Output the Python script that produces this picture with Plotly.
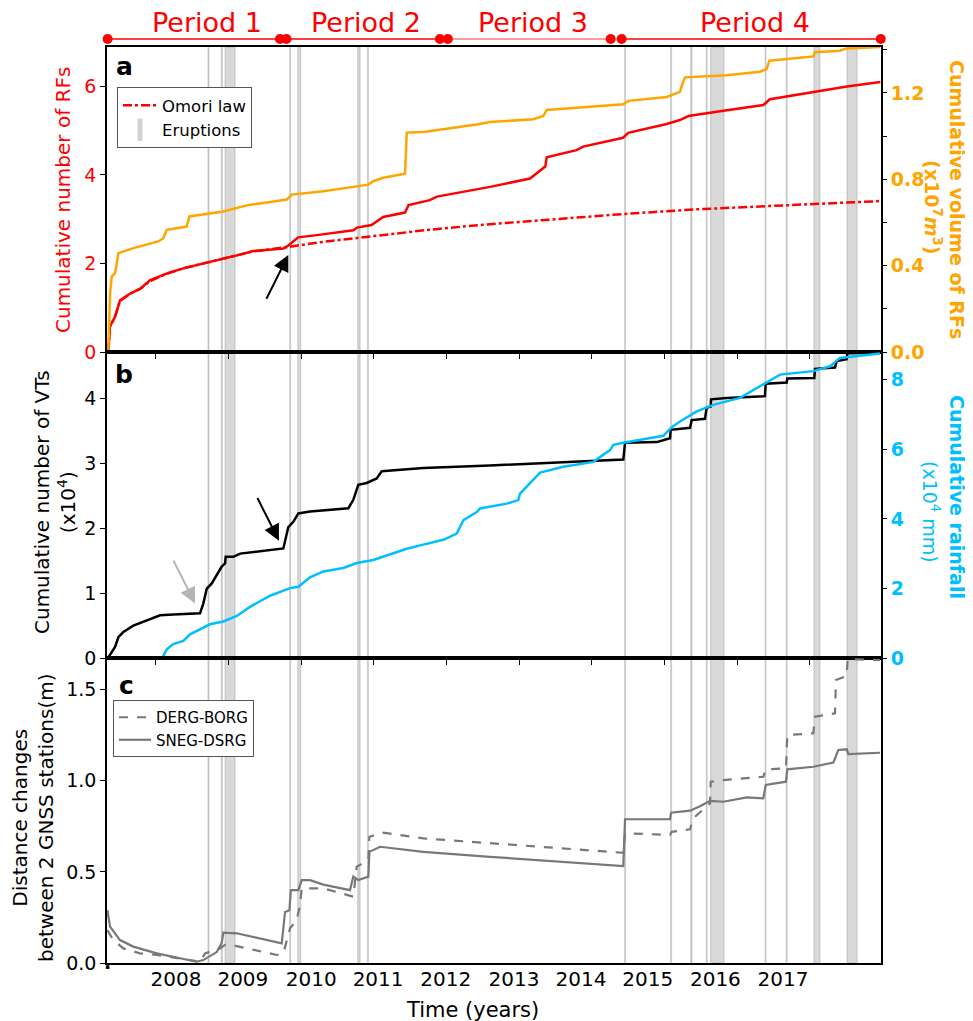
import plotly.graph_objects as go

# ---------------- data ----------------
x_range = [2007.331, 2017.978]
year_ticks = [2008, 2009, 2010, 2011, 2012, 2013, 2014, 2015, 2016, 2017]
tick_label_pos = [2008.28, 2009.20, 2010.14, 2011.06, 2011.99, 2012.93, 2013.85, 2014.77, 2015.70, 2016.63]
tick_labels = ["2008", "2009", "2010", "2011", "2012", "2013", "2014", "2015", "2016", "2017"]

# eruptions (decimal years)
eruption_start = [2008.720, 2008.905, 2008.955, 2009.845, 2009.955, 2010.780, 2010.915, 2014.452,
                  2015.085, 2015.360, 2015.575, 2015.635, 2016.385, 2016.675, 2017.055, 2017.510]
eruption_end = [2008.733, 2008.918, 2009.092, 2009.856, 2009.995, 2010.812, 2010.926, 2014.463,
                2015.096, 2015.376, 2015.586, 2015.818, 2016.396, 2016.686, 2017.138, 2017.650]

# periods
period_names = ["Period 1", "Period 2", "Period 3", "Period 4"]
period_start = [2007.34, 2009.80, 2012.02, 2014.41]
period_end = [2009.71, 2011.91, 2014.26, 2017.975]
period_label_x = [2008.70, 2010.89, 2013.19, 2016.24]
period_colors = ["#ff0000", "#ff0000", "#ff7b7b", "#ff0000"]

# panel a: cumulative number of RFs
rf_t = [2007.35, 2007.37, 2007.44, 2007.51, 2007.65, 2007.79, 2007.92, 2008.15, 2008.38, 2008.70,
        2008.93, 2009.16, 2009.34, 2009.76, 2009.83, 2009.96, 2010.22, 2010.72, 2010.77, 2010.97,
        2011.13, 2011.43, 2011.48, 2011.77, 2011.87, 2012.23, 2012.46, 2012.60, 2013.15, 2013.24,
        2013.36, 2013.38, 2013.79, 2013.88, 2014.43, 2014.50, 2015.03, 2015.21, 2015.33, 2015.81,
        2016.36, 2016.45, 2017.05, 2017.51, 2017.97]
rf_n = [0.00, 0.57, 0.79, 1.17, 1.32, 1.43, 1.62, 1.77, 1.89, 2.01,
        2.11, 2.20, 2.28, 2.34, 2.41, 2.59, 2.64, 2.75, 2.81, 2.87,
        3.05, 3.15, 3.32, 3.43, 3.51, 3.62, 3.68, 3.73, 3.92, 4.04,
        4.19, 4.40, 4.56, 4.64, 4.84, 4.95, 5.15, 5.24, 5.33, 5.45,
        5.58, 5.71, 5.87, 6.00, 6.10]

# Omori law fit
omori_t = [2007.35, 2007.37, 2007.44, 2007.51, 2007.65, 2007.79, 2007.92, 2008.15, 2008.38, 2008.70,
           2008.93, 2009.16, 2009.34, 2009.76, 2009.85, 2010.31, 2010.99, 2011.70, 2012.46, 2013.50,
           2014.46, 2015.40, 2016.41, 2017.97]
omori_n = [0.00, 0.57, 0.79, 1.15, 1.32, 1.43, 1.60, 1.77, 1.89, 2.01,
           2.11, 2.20, 2.27, 2.35, 2.38, 2.49, 2.62, 2.75, 2.87, 3.00,
           3.12, 3.22, 3.30, 3.41]

# panel a: cumulative volume of RFs (x1e7 m3)
vol_t = [2007.349, 2007.373, 2007.396, 2007.442, 2007.465, 2007.487, 2007.693, 2007.878, 2008.037, 2008.106,
         2008.153, 2008.428, 2008.464, 2008.931, 2009.253, 2009.574, 2009.803, 2009.872, 2010.307, 2010.766,
         2010.926, 2010.994, 2011.132, 2011.431, 2011.454, 2011.682, 2012.142, 2012.417, 2012.600, 2013.195,
         2013.333, 2013.380, 2014.433, 2014.502, 2015.030, 2015.121, 2015.213, 2015.237, 2015.282, 2015.856,
         2016.314, 2016.406, 2016.442, 2017.047, 2017.070, 2017.414, 2017.506, 2017.964]
vol_v = [0.000, 0.270, 0.349, 0.365, 0.410, 0.458, 0.481, 0.496, 0.512, 0.527,
         0.566, 0.581, 0.628, 0.651, 0.679, 0.695, 0.706, 0.729, 0.744, 0.767,
         0.775, 0.791, 0.807, 0.826, 1.016, 1.019, 1.039, 1.054, 1.065, 1.078,
         1.093, 1.121, 1.147, 1.163, 1.181, 1.194, 1.205, 1.233, 1.272, 1.282,
         1.298, 1.310, 1.349, 1.369, 1.388, 1.395, 1.406, 1.412]

# panel b: cumulative number of VTs (x1e4)
vt_t = [2007.349, 2007.442, 2007.487, 2007.556, 2007.693, 2007.878, 2008.061, 2008.243, 2008.611, 2008.656,
        2008.703, 2008.772, 2008.909, 2008.955, 2008.964, 2009.069, 2009.161, 2009.757, 2009.780, 2009.825,
        2009.894, 2009.963, 2010.124, 2010.651, 2010.719, 2010.788, 2010.904, 2011.041, 2011.110, 2011.682,
        2012.600, 2014.433, 2014.457, 2014.893, 2015.076, 2015.085, 2015.351, 2015.374, 2015.557, 2015.580,
        2015.635, 2015.640, 2015.856, 2016.382, 2016.392, 2016.681, 2016.689, 2017.061, 2017.070, 2017.345,
        2017.369, 2017.506, 2017.514, 2017.964]
vt_n = [0.01, 0.17, 0.32, 0.40, 0.50, 0.58, 0.66, 0.67, 0.69, 0.84,
        1.07, 1.15, 1.41, 1.46, 1.56, 1.56, 1.61, 1.69, 1.82, 2.02,
        2.10, 2.23, 2.26, 2.31, 2.44, 2.67, 2.70, 2.77, 2.88, 2.93,
        2.97, 3.06, 3.32, 3.33, 3.39, 3.52, 3.55, 3.67, 3.69, 3.86,
        3.88, 3.99, 4.01, 4.04, 4.23, 4.25, 4.31, 4.32, 4.46, 4.48,
        4.58, 4.61, 4.70, 4.71]

# panel b: cumulative rainfall (x1e4 mm)
rain_t = [2008.098, 2008.153, 2008.243, 2008.381, 2008.473, 2008.611, 2008.748, 2008.931, 2009.116, 2009.298,
          2009.574, 2009.849, 2009.963, 2010.124, 2010.307, 2010.582, 2010.766, 2010.994, 2011.224, 2011.454,
          2011.682, 2011.957, 2012.142, 2012.232, 2012.417, 2012.462, 2012.829, 2012.989, 2013.012, 2013.150,
          2013.288, 2013.608, 2014.021, 2014.250, 2014.296, 2014.433, 2014.983, 2015.099, 2015.213, 2015.443,
          2015.671, 2016.038, 2016.359, 2016.589, 2017.047, 2017.277, 2017.414, 2017.964]
rain_v = [0.03, 0.25, 0.40, 0.49, 0.68, 0.83, 0.97, 1.05, 1.21, 1.47,
          1.79, 2.01, 2.05, 2.32, 2.49, 2.59, 2.73, 2.82, 2.98, 3.14,
          3.26, 3.40, 3.58, 3.96, 4.20, 4.30, 4.44, 4.54, 4.73, 5.02,
          5.33, 5.50, 5.64, 5.98, 6.13, 6.19, 6.39, 6.64, 6.80, 7.09,
          7.28, 7.48, 7.86, 8.15, 8.25, 8.39, 8.63, 8.76]

# panel c: GNSS baselines (m)
sneg_t = [2007.336, 2007.373, 2007.510, 2007.693, 2008.015, 2008.243, 2008.565, 2008.656, 2008.840, 2008.909,
          2008.931, 2009.116, 2009.735, 2009.780, 2009.840, 2009.860, 2009.963, 2010.010, 2010.124, 2010.307,
          2010.674, 2010.719, 2010.788, 2010.926, 2010.940, 2011.087, 2011.682, 2012.600, 2013.838, 2014.433,
          2014.457, 2015.076, 2015.090, 2015.351, 2015.488, 2015.626, 2015.809, 2016.131, 2016.359, 2016.392,
          2016.671, 2016.689, 2017.047, 2017.322, 2017.391, 2017.506, 2017.528, 2017.964]
sneg_d = [0.290, 0.200, 0.126, 0.090, 0.053, 0.035, 0.007, 0.016, 0.060, 0.110,
          0.166, 0.163, 0.108, 0.280, 0.290, 0.400, 0.400, 0.455, 0.455, 0.430,
          0.400, 0.474, 0.455, 0.474, 0.610, 0.638, 0.610, 0.583, 0.547, 0.532,
          0.789, 0.789, 0.825, 0.836, 0.860, 0.890, 0.885, 0.909, 0.904, 0.977,
          0.995, 1.063, 1.077, 1.100, 1.169, 1.173, 1.147, 1.154]

derg_t = [2007.336, 2007.418, 2007.556, 2007.785, 2008.015, 2008.473, 2008.611, 2008.680, 2008.886, 2008.955,
          2009.116, 2009.666, 2009.757, 2009.849, 2009.941, 2009.986, 2010.010, 2010.307, 2010.719, 2010.766,
          2010.926, 2010.940, 2011.132, 2011.682, 2012.600, 2014.433, 2014.457, 2015.076, 2015.099, 2015.351,
          2015.396, 2015.626, 2015.635, 2015.809, 2016.359, 2016.392, 2016.671, 2016.689, 2017.047, 2017.070,
          2017.345, 2017.359, 2017.506, 2017.519, 2017.964]
derg_d = [0.180, 0.126, 0.080, 0.053, 0.044, 0.016, 0.007, 0.053, 0.080, 0.100,
          0.093, 0.044, 0.053, 0.190, 0.236, 0.318, 0.410, 0.410, 0.364, 0.529,
          0.565, 0.693, 0.715, 0.684, 0.657, 0.605, 0.712, 0.703, 0.720, 0.734,
          0.794, 0.876, 0.995, 1.004, 1.022, 1.063, 1.068, 1.251, 1.261, 1.352,
          1.370, 1.553, 1.575, 1.667, 1.663]

# ---------------- layout geometry ----------------
# the page adds an 8px body margin; figure pixel = page pixel - 8
W_FIG, H_FIG = 965, 1013
M_L, M_R, M_T, M_B = 99, 92, 0, 58
PLOT_W = W_FIG - M_L - M_R      # 774
PLOT_H = H_FIG - M_T - M_B      # 955

def px(p):  # page column -> paper x
    return (p - 8 - M_L) / PLOT_W
def py(p):  # page row -> paper y
    return (M_T + PLOT_H - (p - 8)) / PLOT_H

dom_a = [py(352), py(47)]
dom_b = [py(658), py(352)]
dom_c = [0.0, py(658)]
dom_top = [py(47), 1.0]

FONT = "DejaVu Sans"
RED = "#ff0000"
ORANGE = "#ffa500"
CYAN = "#00bfff"
GREY = "#787878"

fig = go.Figure()

fig.add_trace(go.Scatter(x=omori_t, y=omori_n, mode="lines", name="Omori law",
                         line=dict(color=RED, width=2.5, dash="dashdot"),
                         xaxis="x", yaxis="y", legend="legend"))
fig.add_trace(go.Scatter(x=[None], y=[None], mode="markers", name="Eruptions",
                         marker=dict(symbol="line-ns", size=22, color="#d3d3d3",
                                     line=dict(color="#d3d3d3", width=6)),
                         xaxis="x", yaxis="y", legend="legend"))
fig.add_trace(go.Scatter(x=rf_t, y=rf_n, mode="lines", showlegend=False,
                         line=dict(color=RED, width=2.5), xaxis="x", yaxis="y"))
fig.add_trace(go.Scatter(x=vol_t, y=vol_v, mode="lines", showlegend=False,
                         line=dict(color=ORANGE, width=2.5), xaxis="x", yaxis="y2"))

fig.add_trace(go.Scatter(x=vt_t, y=vt_n, mode="lines", showlegend=False,
                         line=dict(color="black", width=2.5), xaxis="x2", yaxis="y3"))
fig.add_trace(go.Scatter(x=rain_t, y=rain_v, mode="lines", showlegend=False,
                         line=dict(color=CYAN, width=2.5), xaxis="x2", yaxis="y4"))

fig.add_trace(go.Scatter(x=derg_t, y=derg_d, mode="lines", name="DERG-BORG",
                         line=dict(color=GREY, width=2.2, dash="dash"),
                         xaxis="x3", yaxis="y5", legend="legend2"))
fig.add_trace(go.Scatter(x=sneg_t, y=sneg_d, mode="lines", name="SNEG-DSRG",
                         line=dict(color=GREY, width=2.2),
                         xaxis="x3", yaxis="y5", legend="legend2"))

# period bars (y6 value = 47 - page row)
for s, e, c in zip(period_start, period_end, period_colors):
    fig.add_trace(go.Scatter(x=[s, e], y=[8, 8], mode="lines+markers", showlegend=False,
                             line=dict(color=c, width=1.5),
                             marker=dict(color=RED, size=10), cliponaxis=False,
                             xaxis="x4", yaxis="y6"))

shapes = []
for s, e in zip(eruption_start, eruption_end):
    shapes.append(dict(type="rect", xref="x", yref="paper", x0=s, x1=e, y0=0, y1=dom_a[1],
                       fillcolor="rgba(128,128,128,0.30)",
                       line=dict(color="rgba(128,128,128,0.30)", width=1.2), layer="below"))

ax_common = dict(showline=True, linecolor="black", linewidth=1.5, mirror=True,
                 showgrid=False, zeroline=False, ticks="outside", ticklen=5, tickcolor="black",
                 tickwidth=1.2)

tick_font = dict(family=FONT, size=19, color="black")

fig.update_layout(
    width=W_FIG, height=H_FIG,
    margin=dict(l=M_L, r=M_R, t=M_T, b=M_B, autoexpand=False),
    paper_bgcolor="white", plot_bgcolor="rgba(0,0,0,0)",
    font=dict(family=FONT, size=19, color="black"),
    shapes=shapes,
    xaxis=dict(domain=[0, 1], anchor="y", range=x_range, tickvals=year_ticks,
               showticklabels=False, **ax_common),
    xaxis2=dict(domain=[0, 1], anchor="y3", range=x_range, matches="x", tickvals=year_ticks,
                showticklabels=False, **ax_common),
    xaxis3=dict(domain=[0, 1], anchor="y5", range=x_range, matches="x",
                tickvals=tick_label_pos, ticktext=tick_labels,
                tickfont=dict(family=FONT, size=20, color="black"),
                showline=True, linecolor="black", linewidth=1.5, mirror=True,
                showgrid=False, zeroline=False, ticks="", ticklabelstandoff=-3),
    xaxis4=dict(domain=[0, 1], anchor="y6", range=x_range, matches="x", visible=False),
    yaxis=dict(domain=dom_a, anchor="x", range=[0, 6.89], tickvals=[0, 2, 4, 6],
               tickfont=dict(family=FONT, size=19, color=RED), **ax_common),
    yaxis2=dict(overlaying="y", side="right", anchor="x", range=[0, 1.4125],
                tickvals=[0, 0.4, 0.8, 1.2], ticktext=["0.0", "0.4", "0.8", "1.2"],
                minor=dict(tickvals=[0.2, 0.6, 1.0, 1.4], ticks="outside", ticklen=5,
                           tickcolor="black", tickwidth=1.2, showgrid=False),
                tickfont=dict(family=FONT, size=19, color=ORANGE, weight="bold"),
                showgrid=False, zeroline=False, ticks="outside", ticklen=5, tickcolor="black",
                tickwidth=1.2, showline=False),
    yaxis3=dict(domain=dom_b, anchor="x2", range=[0, 4.72], tickvals=[0, 1, 2, 3, 4],
                tickfont=tick_font, **ax_common),
    yaxis4=dict(overlaying="y3", side="right", anchor="x2", range=[0, 8.8],
                tickvals=[0, 2, 4, 6, 8],
                tickfont=dict(family=FONT, size=19, color=CYAN, weight="bold"),
                showgrid=False, zeroline=False, ticks="outside", ticklen=5, tickcolor="black",
                tickwidth=1.2, showline=False),
    yaxis5=dict(domain=dom_c, anchor="x3", range=[0, 1.674], tickvals=[0, 0.5, 1.0, 1.5],
                ticktext=["0.0", "0.5", "1.0", "1.5"], tickfont=tick_font, **ax_common),
    yaxis6=dict(domain=dom_top, anchor="x4", range=[0, 39], visible=False),
    legend=dict(x=px(117), y=py(87), xanchor="left", yanchor="top",
                bgcolor="white", bordercolor="#555555", borderwidth=1,
                font=dict(family=FONT, size=16.5, color="black"), itemwidth=34,
                tracegroupgap=0),
    legend2=dict(x=px(113), y=py(700), xanchor="left", yanchor="top",
                 bgcolor="white", bordercolor="#555555", borderwidth=1,
                 font=dict(family=FONT, size=15, color="black"), itemwidth=32,
                 tracegroupgap=0),
)

def note(x, y, text, size=19, color="black", angle=0, weight="normal"):
    return dict(x=px(x), y=py(y), xref="paper", yref="paper", text=text, showarrow=False,
                textangle=angle, xanchor="center", yanchor="middle",
                font=dict(family=FONT, size=size, color=color, weight=weight))

ann = []
for name, xl in zip(period_names, period_label_x):
    ann.append(dict(x=xl, y=py(23), xref="x", yref="paper", text=name, showarrow=False,
                    font=dict(family=FONT, size=27, color=RED), xanchor="center", yanchor="middle"))
for letter, (xx, yy) in zip(["a", "b", "c"], [(124, 66), (124, 375), (126, 685)]):
    ann.append(note(xx, yy, letter, size=25, weight="bold"))
ann += [
    note(63, 200, "Cumulative number of RFs", size=20, color=RED, angle=-90),
    note(957, 199, "Cumulative volume of RFs", size=19, color=ORANGE, angle=90, weight="bold"),
    note(933, 207, "(x10<sup>7</sup><i>m</i><sup>3</sup>)", size=19, color=ORANGE, angle=90, weight="bold"),
    note(55, 502, "Cumulative number of VTs<br>(x10<sup>4</sup>)", size=20, angle=-90),
    note(957, 497, "Cumulative rainfall", size=19, color=CYAN, angle=90, weight="bold"),
    note(931, 512, "(x10<sup>4</sup> mm)", size=19, color=CYAN, angle=90),
    note(33, 818, "Distance changes<br>between 2 GNSS stations(m)", size=20, angle=-90),
    note(472, 1010, "Time (years)", size=21),
    note(107, 962, ".", size=19, weight="bold"),
]
ann += [
    dict(x=2009.825, y=2.19, xref="x", yref="y", ax=2009.514, ay=1.17, axref="x", ayref="y",
         showarrow=True, arrowhead=2, arrowsize=1.6, arrowwidth=2, arrowcolor="black", text=""),
    dict(x=2009.697, y=1.81, xref="x2", yref="y3", ax=2009.39, ay=2.49, axref="x2", ayref="y3",
         showarrow=True, arrowhead=2, arrowsize=1.6, arrowwidth=2, arrowcolor="black", text=""),
    dict(x=2008.542, y=0.84, xref="x2", yref="y3", ax=2008.235, ay=1.525, axref="x2", ayref="y3",
         showarrow=True, arrowhead=2, arrowsize=1.6, arrowwidth=2, arrowcolor="#b4b4b4", text=""),
]
fig.update_layout(annotations=ann)

fig.write_html("out.html")
